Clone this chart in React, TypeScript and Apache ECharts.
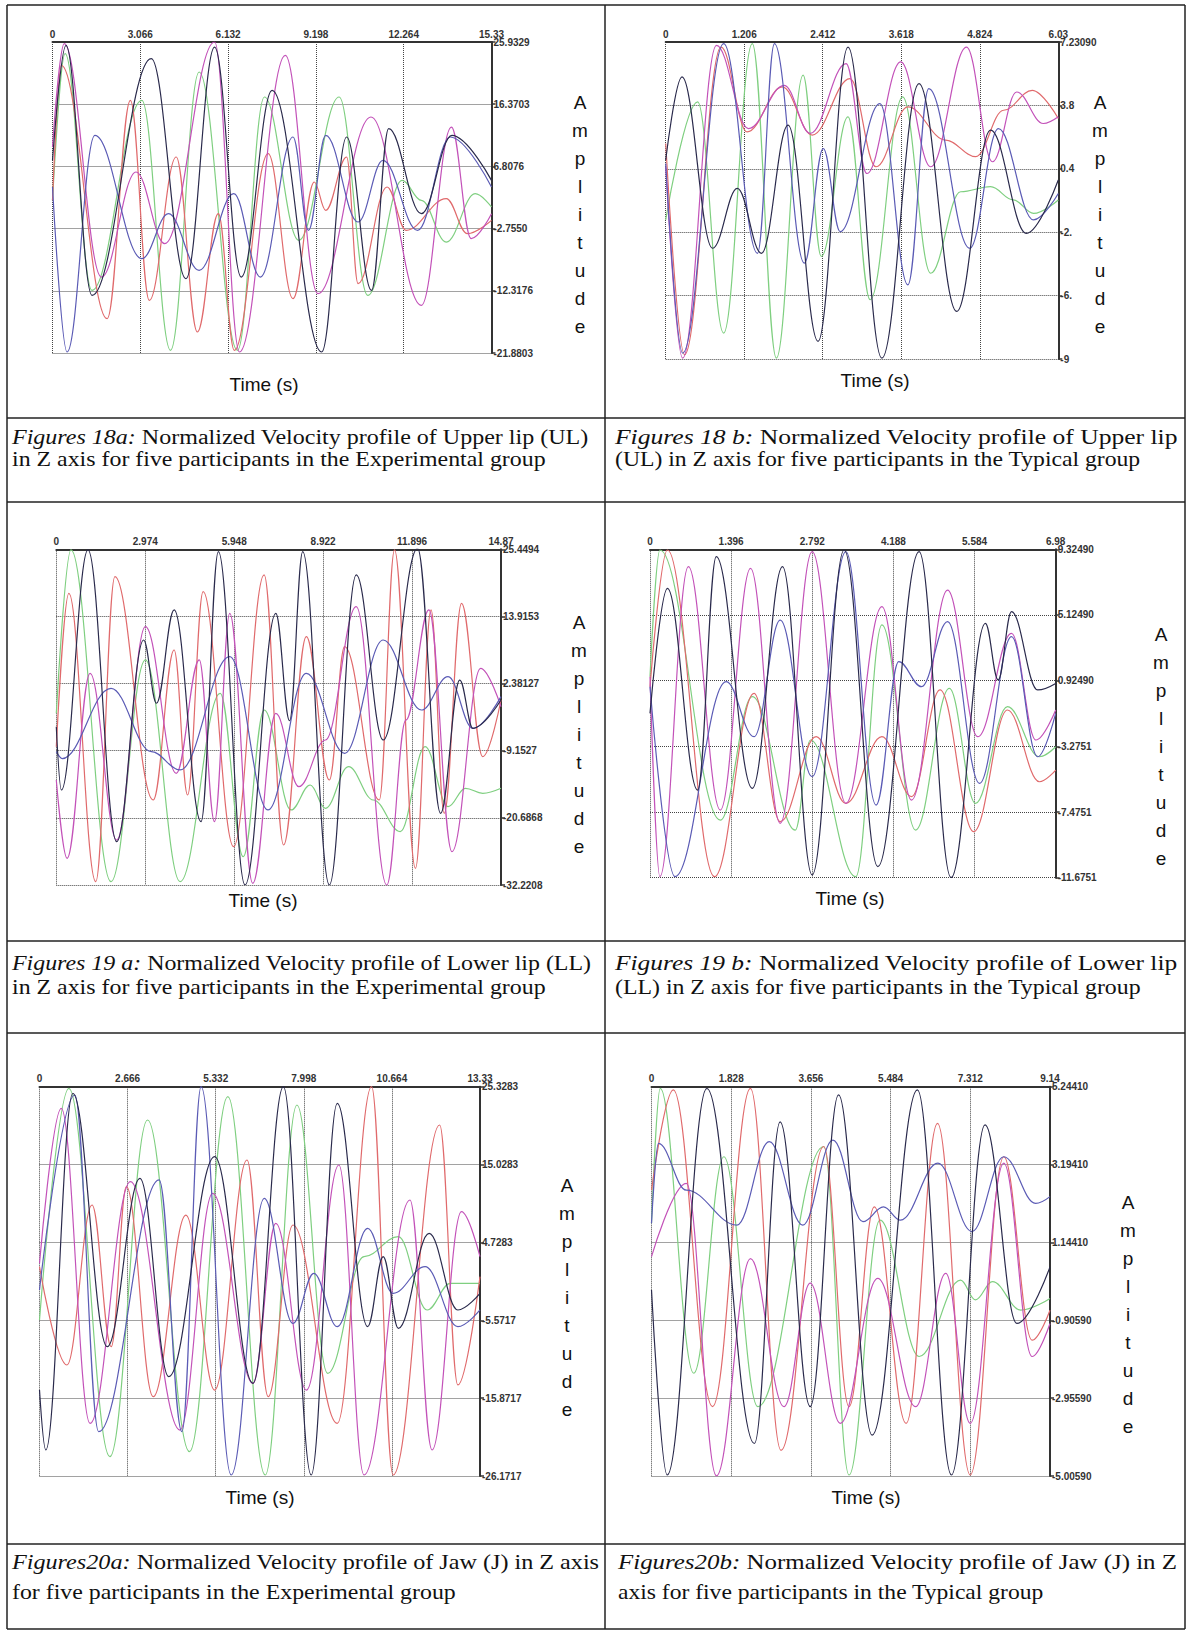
import React, { useEffect, useRef } from "react";
import * as echarts from "echarts";

type Pt = [number, number];

// ---------- Figure 18a : Upper lip, Experimental ----------
const f18aX = ["0", "3.066", "6.132", "9.198", "12.264", "15.33"];
const f18aY = ["-21.8803", "-12.3176", "-2.7550", "6.8076", "16.3703", "25.9329"];
const f18aDark: Pt[] = [[0, 7.74], [0.47, 25.42], [1.38, -13.02], [3.45, 23.37], [4.66, -10.45], [5.66, 25.16], [6.59, -10.2], [7.67, 18.5], [9.4, -21.73], [10.27, 11.33], [11.14, -12.25], [11.74, 12.61], [12.88, -0.46], [13.95, 11.58], [15.33, 4.66]];
const f18aBlue: Pt[] = [[0, 3.64], [0.51, -21.73], [1.48, 11.58], [3.12, -7.38], [4.05, -0.46], [5.12, -9.17], [6.33, 2.61], [7.26, -10.2], [8.4, 11.33], [8.94, -3.02], [9.54, 11.58], [10.67, -1.74], [11.54, 7.74], [12.75, -3.02], [13.89, 11.33], [15.33, 3.64]];
const f18aMagenta: Pt[] = [[0, 9.79], [0.41, 25.68], [1.71, -10.2], [2.92, 5.95], [3.92, -5.07], [5.66, 25.93], [6.53, -21.73], [8.13, 23.88], [9.27, -12.76], [11.12, 14.4], [12.88, -14.55], [13.93, 12.86], [14.62, -4.3], [15.33, -0.46]];
const f18aRed: Pt[] = [[0, 1.59], [0.31, 22.35], [1.91, -16.6], [2.72, 16.96], [3.38, -13.79], [4.32, 8.25], [5.06, -18.65], [5.79, -0.46], [6.35, -21.47], [7.53, 8.76], [8.4, -13.53], [9.14, 4.41], [9.54, 0.05], [10.27, 8.25], [10.67, -11.22], [11.68, 3.64], [12.35, -3.02], [13.75, 1.85], [14.49, -3.54], [15.33, -1.49]];
const f18aGreen: Pt[] = [[0, 1.59], [0.44, 24.14], [1.38, -12.25], [3.12, 16.96], [4.12, -21.47], [5.12, 21.32], [6.46, -21.47], [7.4, 17.48], [8.6, -4.56], [10.01, 17.48], [11.01, -13.02], [12.21, 4.66], [12.88, 1.59], [13.75, -4.82], [14.76, 2.62], [15.33, 0.57]];

// ---------- Figure 18b : Upper lip, Typical ----------
const f18bX = ["0", "1.206", "2.412", "3.618", "4.824", "6.03"];
const f18bY = ["-9", "-6.", "-2.", "0.4", "3.8", "7.23090"];
const f18bDark: Pt[] = [[0, 0.9], [0.25, 5.36], [0.72, -3.83], [1.1, -0.62], [1.47, -4.1], [1.88, 2.77], [2.34, -8.82], [2.8, 6.96], [3.32, -9.72], [3.89, 5.0], [4.47, -7.22], [4.99, 2.5], [5.54, -3.03], [6.03, -0.17]];
const f18bBlue: Pt[] = [[0, 0.72], [0.26, -9.45], [0.89, 7.14], [1.41, -4.1], [1.67, 7.14], [2.13, -4.63], [2.42, 1.52], [2.68, -2.94], [3.29, 3.93], [3.72, -5.79], [4.04, 4.73], [4.67, -3.83], [5.11, 2.59], [5.65, -2.31], [6.03, -0.89]];
const f18bMagenta: Pt[] = [[0, 0.54], [0.26, -9.72], [0.78, 7.05], [1.27, 2.59], [1.82, 4.91], [2.22, 2.33], [2.77, 6.07], [3.09, 0.18], [3.61, 6.16], [4.07, 0.54], [4.62, 6.96], [5.02, 0.81], [5.39, 4.55], [5.8, 2.86], [6.03, 3.22]];
const f18bRed: Pt[] = [[0, 1.79], [0.29, -9.54], [0.85, 6.96], [1.25, 2.41], [1.79, 4.82], [2.25, 2.24], [2.83, 5.27], [3.23, 0.54], [3.72, 3.75], [4.3, 1.97], [4.76, 1.08], [5.19, 3.57], [5.63, 4.64], [6.03, 3.13]];
const f18bGreen: Pt[] = [[0, -2.31], [0.49, 4.02], [0.89, -8.38], [1.33, 7.14], [1.7, -9.72], [2.11, 5.45], [2.39, -4.27], [2.8, 3.22], [3.14, -6.59], [3.64, 4.29], [4.07, -5.17], [4.53, -0.8], [4.99, -0.53], [5.34, -1.24], [5.65, -1.96], [6.03, -1.24]];

// ---------- Figure 19a : Lower lip, Experimental ----------
const f19aX = ["0", "2.974", "5.948", "8.922", "11.896", "14.87"];
const f19aY = ["-32.2208", "-20.6868", "-9.1527", "2.38127", "13.9153", "25.4494"];
const f19aDark: Pt[] = [[0, -5.02], [0.17, -15.9], [1.06, 25.34], [2.02, -24.78], [2.92, 9.87], [3.35, -1.0], [3.94, 15.03], [4.84, -21.34], [5.42, 25.05], [6.31, -32.22], [7.34, 14.45], [7.8, -4.0], [8.24, 25.05], [9.13, -32.22], [10.03, 21.04], [10.93, -7.31], [12.08, 25.62], [12.85, -19.91], [13.49, 2.99], [13.93, -5.31], [14.87, -0.44]];
const f19aBlue: Pt[] = [[0, -9.31], [0.2, -10.5], [1.83, 1.57], [3.18, -9.31], [4.14, -12.46], [5.8, 7.01], [7.08, -19.33], [8.36, 4.14], [9.64, -9.6], [10.93, 9.87], [12.21, -2.16], [13.1, 3.57], [13.93, -5.31], [14.87, 0.14]];
const f19aMagenta: Pt[] = [[0, -14.18], [0.36, -27.64], [1.13, 4.14], [2.02, -24.49], [2.98, 12.16], [4.01, -13.04], [4.78, 6.44], [5.29, -21.34], [5.8, 14.45], [6.57, -31.94], [7.34, -2.73], [8.11, -15.33], [9.0, -7.31], [10.03, 15.6], [11.05, -32.22], [11.69, -3.87], [12.46, 15.03], [13.23, -26.49], [14.19, 5.0], [14.87, -1.58]];
const f19aRed: Pt[] = [[0, -8.46], [0.42, 17.89], [1.32, -31.65], [1.96, 20.75], [3.24, -17.62], [3.94, 8.15], [4.39, -16.76], [4.91, 18.18], [5.93, -25.64], [6.95, 21.04], [7.6, -25.35], [8.36, 10.44], [9.13, -14.18], [9.64, 8.72], [10.8, -17.62], [11.31, 25.34], [12.01, -29.36], [12.53, 15.03], [12.97, -19.91], [13.55, 16.17], [14.26, -10.17], [14.87, -0.44]];
const f19aGreen: Pt[] = [[0, -2.73], [0.49, 25.34], [1.83, -31.65], [2.98, 6.44], [4.14, -31.65], [5.48, 0.71], [6.25, -27.35], [6.95, -2.16], [7.85, -19.33], [8.49, -15.04], [9.0, -19.05], [9.77, -11.89], [10.6, -17.62], [11.5, -23.06], [12.33, -8.46], [13.1, -18.76], [13.68, -15.61], [14.26, -16.47], [14.87, -15.61]];

// ---------- Figure 19b : Lower lip, Typical ----------
const f19bX = ["0", "1.396", "2.792", "4.188", "5.584", "6.98"];
const f19bY = ["-11.6751", "-7.4751", "-3.2751", "0.92490", "5.12490", "9.32490"];
const f19bDark: Pt[] = [[0, -1.17], [0.3, 6.83], [0.82, -6.07], [1.14, 8.86], [1.76, -5.96], [2.28, 8.22], [2.79, -11.5], [3.34, 9.28], [3.92, -10.97], [4.63, 9.17], [5.18, -11.67], [5.77, 4.59], [5.99, 0.97], [6.22, 5.34], [6.67, 0.33], [6.98, 0.75]];
const f19bBlue: Pt[] = [[0, 0.54], [0.43, -11.61], [1.31, 0.86], [1.79, -2.66], [2.24, 4.8], [2.79, -5.22], [3.37, 9.17], [3.89, -7.03], [4.28, 2.14], [4.67, 0.54], [5.12, 4.7], [5.67, -5.64], [6.22, 3.74], [6.67, -3.94], [6.98, -1.17]];
const f19bMagenta: Pt[] = [[0, 1.18], [0.17, -11.61], [0.66, 8.22], [1.21, -7.35], [1.73, 8.11], [2.24, -8.2], [2.79, 9.17], [3.37, -6.92], [3.99, 5.66], [4.5, -6.71], [5.12, 6.72], [5.64, -2.66], [6.22, 3.95], [6.64, -2.87], [6.98, -0.95]];
const f19bRed: Pt[] = [[0, 0.54], [0.3, 9.28], [1.11, -11.61], [1.79, 0.11], [2.24, -8.09], [2.86, -2.66], [3.37, -6.92], [3.99, -2.66], [4.5, -6.49], [4.99, 0.33], [5.57, -8.73], [6.15, -0.95], [6.7, -5.54], [6.98, -4.79]];
const f19bGreen: Pt[] = [[0, 1.18], [0.17, 9.28], [1.21, -7.99], [1.76, -0.1], [2.5, -8.63], [2.76, -2.87], [3.54, -11.61], [3.99, 4.49], [4.57, -8.63], [5.15, 0.43], [5.6, -6.92], [6.15, -0.74], [6.7, -3.94], [6.98, -3.3]];

// ---------- Figure 20a : Jaw, Experimental ----------
const f20aX = ["0", "2.666", "5.332", "7.998", "10.664", "13.33"];
const f20aY = ["-26.1717", "-15.8717", "-5.5717", "4.7283", "15.0283", "25.3283"];
const f20aDark: Pt[] = [[0, -14.8], [0.19, -22.73], [1.01, 24.45], [2.05, -9.06], [3.04, 13.21], [3.91, -13.03], [5.3, 16.07], [6.46, -13.91], [7.38, 25.33], [8.22, -26.04], [9.01, 23.13], [9.93, -6.42], [10.4, 2.84], [10.86, -6.64], [11.79, 5.93], [12.66, -4.21], [13.33, -2.01]];
const f20aBlue: Pt[] = [[0, -1.57], [1.07, 24.23], [1.79, -20.31], [3.62, 12.99], [4.31, -20.31], [4.89, 25.33], [5.8, -26.04], [6.8, 10.56], [7.67, -5.98], [8.3, 0.64], [9.01, -6.42], [9.93, 6.59], [10.7, -2.01], [11.67, 1.52], [12.66, -6.42], [13.33, -4.21]];
const f20aMagenta: Pt[] = [[0, 1.96], [0.66, 22.47], [1.53, -19.21], [2.75, 12.76], [4.25, -20.09], [5.24, 11.22], [6.46, -13.91], [7.15, 7.25], [8.08, -14.8], [9.06, 14.97], [9.82, -26.04], [11.21, 10.34], [11.88, -22.73], [12.77, 8.79], [13.33, 2.84]];
const f20aRed: Pt[] = [[0, 1.52], [0.83, -11.49], [1.59, 9.68], [2.17, -9.06], [2.63, 12.1], [3.44, -15.68], [4.43, 8.35], [5.3, -14.8], [6.28, 15.63], [6.92, -15.68], [7.67, 7.03], [9.01, -19.21], [10.05, 25.33], [10.7, -26.04], [12.11, 20.26], [12.66, -14.13], [13.33, 0.2]];
const f20aGreen: Pt[] = [[0, -5.54], [0.89, 25.11], [2.13, -23.62], [3.27, 20.92], [4.54, -22.95], [5.7, 24.01], [6.83, -26.04], [7.79, 22.91], [8.72, -12.59], [9.82, 2.84], [10.86, 5.49], [11.73, -4.21], [12.43, -0.69], [13.33, -0.69]];

// ---------- Figure 20b : Jaw, Typical ----------
const f20bX = ["0", "1.828", "3.656", "5.484", "7.312", "9.14"];
const f20bY = ["-5.00590", "-2.95590", "-0.90590", "1.14410", "3.19410", "5.24410"];
const f20bDark: Pt[] = [[0, -0.11], [0.36, -4.98], [1.27, 5.2], [2.36, -4.15], [2.95, 4.32], [3.64, -3.18], [4.29, 5.03], [5.06, -3.93], [6.1, 5.16], [6.88, -4.98], [7.65, 4.24], [8.38, -0.99], [9.14, 0.5]];
const f20bBlue: Pt[] = [[0, 1.65], [0.16, 3.75], [0.8, 2.52], [1.96, 1.6], [2.7, 3.8], [3.47, 1.6], [4.16, 3.84], [4.85, 1.69], [5.32, 2.08], [5.71, 1.73], [6.57, 3.23], [7.35, 1.43], [8.08, 3.4], [8.81, 2.17], [9.14, 2.35]];
const f20bMagenta: Pt[] = [[0, 0.77], [0.8, 2.7], [1.49, -5.0], [2.27, 0.72], [3.04, -3.18], [3.64, 0.07], [4.33, -3.62], [5.19, 0.2], [6.06, -3.18], [6.75, 0.33], [7.31, -3.62], [8.08, 3.23], [8.73, -1.86], [9.14, -0.99]];
const f20bRed: Pt[] = [[0, 2.52], [0.5, 5.16], [1.4, -3.18], [2.27, 5.2], [2.97, -4.33], [3.95, 3.67], [4.53, -3.18], [5.11, 2.08], [5.84, -3.62], [6.56, 4.28], [7.31, -4.98], [8.08, 3.4], [8.73, -1.43], [9.14, -0.64]];
const f20bGreen: Pt[] = [[0, 1.65], [0.2, 5.2], [0.97, -2.3], [1.66, 3.4], [2.44, -3.18], [3.95, 3.67], [4.53, -4.98], [5.24, 1.73], [6.14, -1.86], [7.09, 0.15], [7.43, -0.37], [7.82, 0.11], [8.47, -0.64], [9.14, -0.33]];

const COLORS: Record<string, string> = {
  green: "#7fcf80",
  red: "#e06a6c",
  magenta: "#c352b9",
  blue: "#5b5bb5",
  dark: "#2a2a4c",
};

const panels = [
  { grid: { left: 52.5, top: 42, width: 439, height: 311 }, xMax: 15.33, yMin: -21.8803, yMax: 25.9329, xLabels: f18aX, yLabels: f18aY,
    lines: { green: f18aGreen, red: f18aRed, magenta: f18aMagenta, blue: f18aBlue, dark: f18aDark } },
  { grid: { left: 665.7, top: 42, width: 392.6, height: 317 }, xMax: 6.03, yMin: -9.7691, yMax: 7.2309, xLabels: f18bX, yLabels: f18bY,
    lines: { green: f18bGreen, red: f18bRed, magenta: f18bMagenta, blue: f18bBlue, dark: f18bDark } },
  { grid: { left: 56.3, top: 549.3, width: 444.7, height: 335.7 }, xMax: 14.87, yMin: -32.2208, yMax: 25.4494, xLabels: f19aX, yLabels: f19aY,
    lines: { green: f19aGreen, red: f19aRed, magenta: f19aMagenta, blue: f19aBlue, dark: f19aDark } },
  { grid: { left: 650, top: 549.3, width: 405.7, height: 328.4 }, xMax: 6.98, yMin: -11.6751, yMax: 9.3249, xLabels: f19bX, yLabels: f19bY,
    lines: { green: f19bGreen, red: f19bRed, magenta: f19bMagenta, blue: f19bBlue, dark: f19bDark } },
  { grid: { left: 39.5, top: 1086.7, width: 440.5, height: 389.3 }, xMax: 13.33, yMin: -26.1717, yMax: 25.3283, xLabels: f20aX, yLabels: f20aY,
    lines: { green: f20aGreen, red: f20aRed, magenta: f20aMagenta, blue: f20aBlue, dark: f20aDark } },
  { grid: { left: 651.5, top: 1086.7, width: 398.5, height: 389.3 }, xMax: 9.14, yMin: -5.0059, yMax: 5.2441, xLabels: f20bX, yLabels: f20bY,
    lines: { green: f20bGreen, red: f20bRed, magenta: f20bMagenta, blue: f20bBlue, dark: f20bDark } },
];

// caption lines with the width each line occupies in the reference
const captions = [
  { x: 12, y1: 437, y2: 459, size: 20, w1: 577, w2: 534, head: "Figures 18a:", l1: " Normalized Velocity profile of Upper lip (UL)", l2: "in Z axis for five participants in the Experimental group" },
  { x: 615, y1: 437, y2: 459, size: 20, w1: 563, w2: 526, head: "Figures 18 b:", l1: " Normalized Velocity profile of Upper lip", l2: "(UL) in Z axis for five participants in the Typical group" },
  { x: 12, y1: 963, y2: 987, size: 20, w1: 580, w2: 534, head: "Figures 19 a:", l1: " Normalized Velocity profile of Lower lip (LL)", l2: "in Z axis for five participants in the Experimental group" },
  { x: 615, y1: 963, y2: 987, size: 20, w1: 563, w2: 526, head: "Figures 19 b:", l1: " Normalized Velocity profile of Lower lip", l2: "(LL) in Z axis for five participants in the Typical group" },
  { x: 12, y1: 1562, y2: 1592, size: 21, w1: 588, w2: 444, head: "Figures20a:", l1: " Normalized Velocity profile of Jaw (J) in Z axis", l2: "for five participants in the Experimental group" },
  { x: 618, y1: 1562, y2: 1592, size: 21, w1: 560, w2: 426, head: "Figures20b:", l1: " Normalized Velocity profile of Jaw (J) in Z", l2: "axis for five participants in the Typical group" },
];

const amplitudeLabels = [
  { x: 580, y: 88 }, { x: 1100, y: 88 }, { x: 579, y: 608 }, { x: 1161, y: 620 }, { x: 567, y: 1171 }, { x: 1128, y: 1188 },
];
const timeLabels = [
  { x: 264, y: 384 }, { x: 875, y: 380 }, { x: 263, y: 900 }, { x: 850, y: 898 }, { x: 260, y: 1497 }, { x: 866, y: 1497 },
];

function measure(text: string, font: string): number {
  const c = document.createElement("canvas").getContext("2d");
  if (!c) return text.length * 9;
  c.font = font;
  return c.measureText(text).width;
}

function buildOption(): any {
  const grid: any[] = [];
  const xAxis: any[] = [];
  const yAxis: any[] = [];
  const series: any[] = [];
  const labelStyle = { fontSize: 10, fontWeight: "bold", color: "#333", fontFamily: "Liberation Sans" };
  const split = { show: true, lineStyle: { type: "dotted", color: "#444", width: 1 } };

  panels.forEach((p, i) => {
    grid.push({ ...p.grid, containLabel: false });
    xAxis.push({ type: "value", gridIndex: i, min: 0, max: p.xMax, show: false });
    xAxis.push({
      type: "value", gridIndex: i, position: "top", min: 0, max: 5, interval: 1,
      axisLine: { show: true, onZero: false, lineStyle: { color: "#333", width: 2 } },
      axisTick: { show: false },
      axisLabel: { ...labelStyle, margin: 3, formatter: (v: number) => p.xLabels[Math.round(v)] ?? "" },
      splitLine: split,
    });
    yAxis.push({ type: "value", gridIndex: i, min: p.yMin, max: p.yMax, show: false });
    yAxis.push({
      type: "value", gridIndex: i, position: "right", min: 0, max: 5, interval: 1,
      axisLine: { show: true, onZero: false, lineStyle: { color: "#333", width: 2 } },
      axisTick: { show: true, length: 4, lineStyle: { color: "#333", width: 1.5 } },
      axisLabel: { ...labelStyle, margin: 2, formatter: (v: number) => p.yLabels[Math.round(v)] ?? "" },
      splitLine: split,
    });
    (["green", "red", "magenta", "blue", "dark"] as const).forEach((k) => {
      series.push({
        type: "line", name: `${i}-${k}`, xAxisIndex: 2 * i, yAxisIndex: 2 * i,
        data: (p.lines as any)[k], showSymbol: false, symbol: "none",
        smooth: 0.38, smoothMonotone: "x", silent: true,
        lineStyle: { color: COLORS[k], width: 1.2 },
      });
    });
  });

  const elements: any[] = [];
  const L = 7, R = 1185, T = 5, B = 1629, MID = 605;
  const stroke = { stroke: "#222", lineWidth: 1.5 };
  const hl = [T, 418, 502, 941, 1033, 1544, B];
  hl.forEach((y) => elements.push({ type: "line", shape: { x1: L, y1: y, x2: R, y2: y }, style: stroke }));
  [L, MID, R].forEach((x) => elements.push({ type: "line", shape: { x1: x, y1: T, x2: x, y2: B }, style: stroke }));

  captions.forEach((c) => {
    const fam = '"Liberation Serif"';
    const base = { fontFamily: "Liberation Serif", fontSize: c.size, fill: "#111" };
    const w1 = measure(c.head, `italic ${c.size}px ${fam}`) + measure(c.l1, `${c.size}px ${fam}`);
    const w2 = measure(c.l2, `${c.size}px ${fam}`);
    elements.push({
      type: "text", x: c.x, y: c.y1, scaleX: c.w1 / w1,
      style: {
        text: `{i|${c.head}}${c.l1}`, ...base, verticalAlign: "middle", align: "left",
        rich: { i: { fontFamily: "Liberation Serif", fontSize: c.size, fontStyle: "italic", fill: "#111" } },
      },
    });
    elements.push({ type: "text", x: c.x, y: c.y2, scaleX: c.w2 / w2, style: { text: c.l2, ...base, verticalAlign: "middle", align: "left" } });
  });

  amplitudeLabels.forEach((a) => {
    elements.push({
      type: "text", x: a.x, y: a.y,
      style: { text: "A\nm\np\nl\ni\nt\nu\nd\ne", fontFamily: "Liberation Sans", fontSize: 19, lineHeight: 28, fill: "#111", align: "center", verticalAlign: "top" },
    });
  });
  timeLabels.forEach((t) => {
    elements.push({
      type: "text", x: t.x, y: t.y,
      style: { text: "Time (s)", fontFamily: "Liberation Sans", fontSize: 19, fill: "#111", align: "center", verticalAlign: "middle" },
    });
  });

  return {
    animation: false,
    backgroundColor: "#ffffff",
    textStyle: { fontFamily: "Liberation Sans" },
    grid, xAxis, yAxis, series,
    graphic: { elements },
  };
}

export default function App() {
  const ref = useRef<HTMLDivElement>(null);
  useEffect(() => {
    document.body.style.margin = "0";
    const chart = echarts.init(ref.current as HTMLDivElement, null, { renderer: "svg" });
    chart.setOption(buildOption());
    return () => chart.dispose();
  }, []);
  return <div ref={ref} style={{ position: "absolute", left: 0, top: 0, width: 1189, height: 1631, background: "#fff" }} />;
}
